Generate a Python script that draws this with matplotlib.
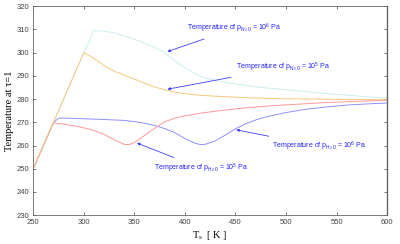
import matplotlib
matplotlib.use("Agg")
import matplotlib.pyplot as plt

# curves (T_s in K, temperature at tau=1 in K)
ts_n2o_6 = [250, 310, 320, 330, 340, 350, 360, 370, 380, 390, 400, 410, 420, 440, 460, 480, 500, 520, 540, 560, 580, 600]
t_n2o_6 = [250, 309.5, 309.2, 308.5, 307.2, 305.8, 304.0, 302.2, 300.0, 296.5, 293.5, 291.0, 289.0, 287.2, 285.8, 284.8, 284.0, 283.2, 282.4, 281.7, 281.0, 280.4]

ts_n2o_5 = [250, 300, 310, 320, 330, 340, 350, 360, 370, 380, 390, 400, 415, 440, 460, 480, 500, 540, 600]
t_n2o_5 = [250, 300, 297.5, 294.5, 292.0, 290.3, 288.6, 286.8, 285.2, 284.0, 283.0, 282.3, 281.6, 281.0, 280.6, 280.3, 280.1, 279.9, 279.7]

ts_h2o_5 = [250, 270, 280, 290, 300, 310, 320, 330, 340, 345, 350, 360, 370, 380, 390, 400, 420, 440, 460, 480, 500, 540, 600]
t_h2o_5 = [250, 269.8, 269.2, 268.5, 267.6, 266.5, 264.8, 262.5, 260.5, 260.4, 261.3, 264.3, 267.4, 270.2, 271.8, 272.8, 274.2, 275.3, 276.2, 276.9, 277.5, 278.5, 279.5]

ts_h2o_6 = [250, 270, 275, 280, 300, 320, 340, 350, 360, 370, 380, 390, 400, 410, 415, 420, 430, 440, 450, 460, 470, 480, 500, 520, 540, 560, 580, 600]
t_h2o_6 = [250, 269.8, 271.8, 271.8, 271.5, 271.2, 270.8, 270.3, 269.6, 268.6, 267.3, 265.5, 263.0, 261.0, 260.4, 260.5, 262.0, 264.5, 267.2, 269.3, 271.0, 272.3, 274.2, 275.6, 276.6, 277.4, 277.9, 278.3]

xticks = [250, 300, 350, 400, 450, 500, 550, 600]
yticks = [230, 240, 250, 260, 270, 280, 290, 300, 310, 320]

plt.rcParams["mathtext.default"] = "regular"

fig = plt.figure(figsize=(4, 2.44), dpi=100)
ax = fig.add_axes([0.083, 0.118, 0.885, 0.857])

ax.plot(ts_n2o_6, t_n2o_6, color="#cceff0", lw=0.7)
ax.plot(ts_h2o_6, t_h2o_6, color="#9090ff", lw=0.7)
ax.plot(ts_h2o_5, t_h2o_5, color="#ff9999", lw=0.7)
ax.plot(ts_n2o_5, t_n2o_5, color="#f7c87a", lw=0.7)

ax.set_xlim(250, 600)
ax.set_ylim(230, 320)
ax.set_xticks(xticks)
ax.set_yticks(yticks)
ax.tick_params(direction="in", length=2, width=0.5, labelsize=5.5, colors="#444444",
               top=True, right=True, pad=3)
for lab in ax.get_xticklabels() + ax.get_yticklabels():
    lab.set_family("Liberation Sans")
for sp in ax.spines.values():
    sp.set_color("#666666")
    sp.set_linewidth(0.6)
ax.spines["right"].set_linewidth(1.0)

ax.set_xlabel(r"T$_s$  [ K ]", family="Liberation Serif", fontsize=7.5, labelpad=2)
ax.set_ylabel("Temperature at \u03c4=1", family="Liberation Serif", fontsize=7.5, labelpad=2)

arrow = dict(arrowstyle="-|>", color="#4040ff", lw=0.6, mutation_scale=4)
kw = dict(color="#2020ff", fontsize=5, family="Liberation Sans", va="center", ha="left",
          arrowprops=arrow)

ax.annotate(r"Temperature of p$_{N_2\,0}$ = 10$^6$ Pa", xy=(380, 300), xytext=(402, 310.3), **kw)
ax.annotate(r"Temperature of p$_{N_2\,0}$ = 10$^5$ Pa", xy=(380, 284), xytext=(451, 293.6), **kw)
ax.annotate(r"Temperature of p$_{H_2\,0}$ = 10$^5$ Pa", xy=(350, 261.5), xytext=(369, 250.3), **kw)
ax.annotate(r"Temperature of p$_{H_2\,0}$ = 10$^6$ Pa", xy=(448, 267), xytext=(486, 259.7), **kw)

fig.savefig("out.png", dpi=100)
